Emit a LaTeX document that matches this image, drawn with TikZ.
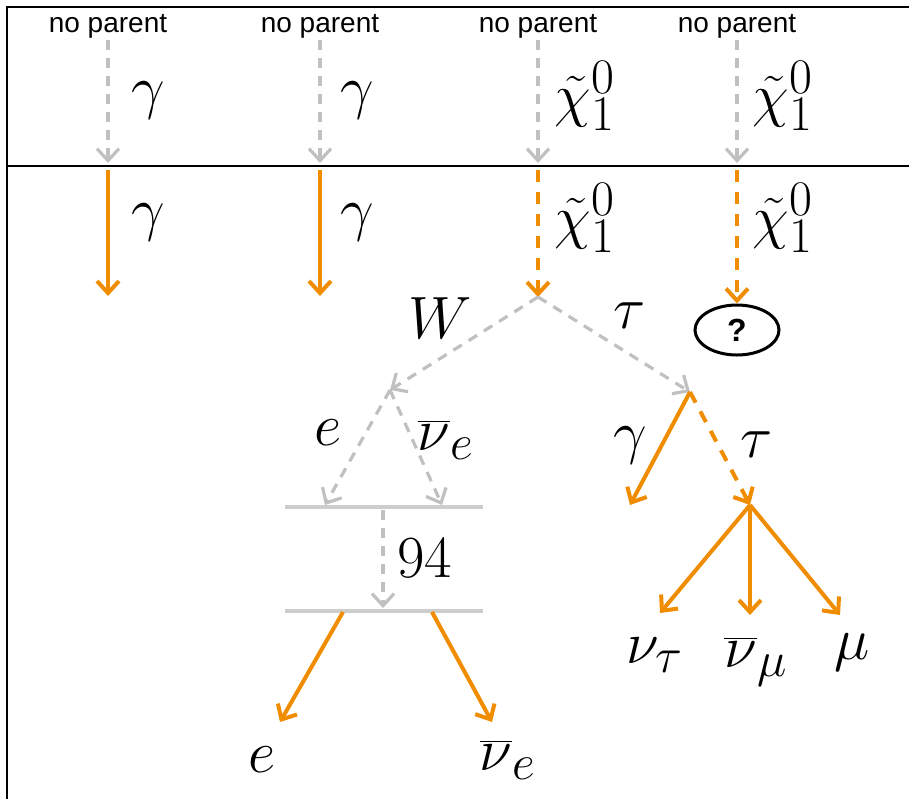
\documentclass[tikz,border=0pt]{standalone}
\usepackage{fontspec}
\setsansfont{Liberation Sans}
\usetikzlibrary{arrows.meta,shapes.geometric}
\definecolor{decayorange}{RGB}{240,140,0}
\definecolor{histgray}{RGB}{192,192,192}
\definecolor{bargray}{RGB}{205,205,205}
\newcommand{\plab}[1]{\scalebox{1.2}{$#1$}}
\tikzset{
  hist/.style={histgray, line width=1.6pt, dash pattern=on 5pt off 4pt, -{Straight Barb[length=6pt,width=11pt,line width=1.6pt]}},
  real/.style={decayorange, line width=2pt, -{Straight Barb[length=6pt,width=11pt,line width=2pt]}},
  realdash/.style={real, dash pattern=on 6pt off 5pt},
  lbl/.style={inner sep=0pt, font=\Huge},
  nolbl/.style={inner sep=1pt, font=\sffamily\fontsize{14}{16}\selectfont},
  barline/.style={bargray, line width=2pt},
}
\begin{document}
\begin{tikzpicture}[x=0.5pt, y=-0.5pt]
\useasboundingbox (0,0) rectangle (909,799);
\draw[line width=1.3pt] (909,7) -- (7,7) -- (7,799);
\draw[line width=1.3pt] (7,166) -- (909,166);
% generator level
\node[nolbl] (np1) at (108,26) {no parent};
\node[nolbl] (np2) at (320,26) {no parent};
\node[nolbl] (np3) at (538,26) {no parent};
\node[nolbl] (np4) at (737,26) {no parent};
\coordinate (g1) at (108,163);
\coordinate (g2) at (320,163);
\coordinate (g3) at (538,163);
\coordinate (g4) at (737,163);
\draw[hist] (np1) -- (g1);
\draw[hist] (np2) -- (g2);
\draw[hist] (np3) -- (g3);
\draw[hist] (np4) -- (g4);
\node[lbl] (lg1) at (148,100) {\plab{\gamma}};
\node[lbl] (lg2) at (357,100) {\plab{\gamma}};
\node[lbl] (lg3) at (585,96) {\plab{\tilde{\chi}_1^0}};
\node[lbl] (lg4) at (783,96) {\plab{\tilde{\chi}_1^0}};
% simulation level
\coordinate (s1) at (108,170);
\coordinate (s2) at (320,170);
\coordinate (s3) at (538,170);
\coordinate (s4) at (737,170);
\coordinate (e1) at (108,296);
\coordinate (e2) at (320,296);
\coordinate (chi) at (538,297);
\node[draw, ellipse, line width=1.5pt, minimum width=42pt, minimum height=25pt, inner sep=0pt, font=\sffamily\bfseries\fontsize{16}{18}\selectfont] (unk) at (737,330) {?};
\draw[real] (s1) -- (e1);
\draw[real] (s2) -- (e2);
\draw[realdash] (s3) -- (chi);
\draw[realdash] (s4) -- (unk.north);
\node[lbl] (ls1) at (148,222) {\plab{\gamma}};
\node[lbl] (ls2) at (357,222) {\plab{\gamma}};
\node[lbl] (ls3) at (585,218) {\plab{\tilde{\chi}_1^0}};
\node[lbl] (ls4) at (783,218) {\plab{\tilde{\chi}_1^0}};
% neutralino decay
\coordinate (wv) at (390,390);
\coordinate (tv) at (690,392);
\draw[hist] (chi) -- (wv);
\draw[hist] (chi) -- (tv);
\node[lbl] (lw) at (440,318) {\plab{W}};
\node[lbl] (lt) at (630,316) {\plab{\tau}};
% W branch
\coordinate (b1l) at (285,507);
\coordinate (b1r) at (483,507);
\coordinate (b2l) at (285,611);
\coordinate (b2r) at (483,611);
\draw[barline] (b1l) -- (b1r);
\draw[barline] (b2l) -- (b2r);
\coordinate (we) at (325,505);
\coordinate (wn) at (442,505);
\draw[hist] (wv) -- (we);
\draw[hist] (wv) -- (wn);
\node[lbl] (lwe) at (328,433) {\plab{e}};
\node[lbl] (lwn) at (446,440) {\plab{\overline{\nu}_e}};
\coordinate (h1) at (383,510);
\coordinate (h2) at (383,608);
\draw[hist] (h1) -- (h2);
\node[lbl] (l94) at (425,558) {\plab{94}};
\coordinate (f1) at (343,612);
\coordinate (f2) at (432,612);
\coordinate (fe) at (280,722);
\coordinate (fn) at (492,722);
\draw[real] (f1) -- (fe);
\draw[real] (f2) -- (fn);
\node[lbl] (lfe) at (262,760) {\plab{e}};
\node[lbl] (lfn) at (508,760) {\plab{\overline{\nu}_e}};
% tau branch
\coordinate (tg) at (630,505);
\coordinate (tt) at (750,505);
\draw[real] (tv) -- (tg);
\draw[realdash] (tv) -- (tt);
\node[lbl] (ltg) at (630,445) {\plab{\gamma}};
\node[lbl] (ltt) at (757,445) {\plab{\tau}};
\coordinate (d1) at (660,613);
\coordinate (d2) at (750,615);
\coordinate (d3) at (840,615);
\draw[real] (tt) -- (d1);
\draw[real] (tt) -- (d2);
\draw[real] (tt) -- (d3);
\node[lbl] (lnt) at (655,655) {\plab{\nu_\tau}};
\node[lbl] (lnm) at (756,662) {\plab{\overline{\nu}_\mu}};
\node[lbl] (lmu) at (852,652) {\plab{\mu}};
\end{tikzpicture}
\end{document}
